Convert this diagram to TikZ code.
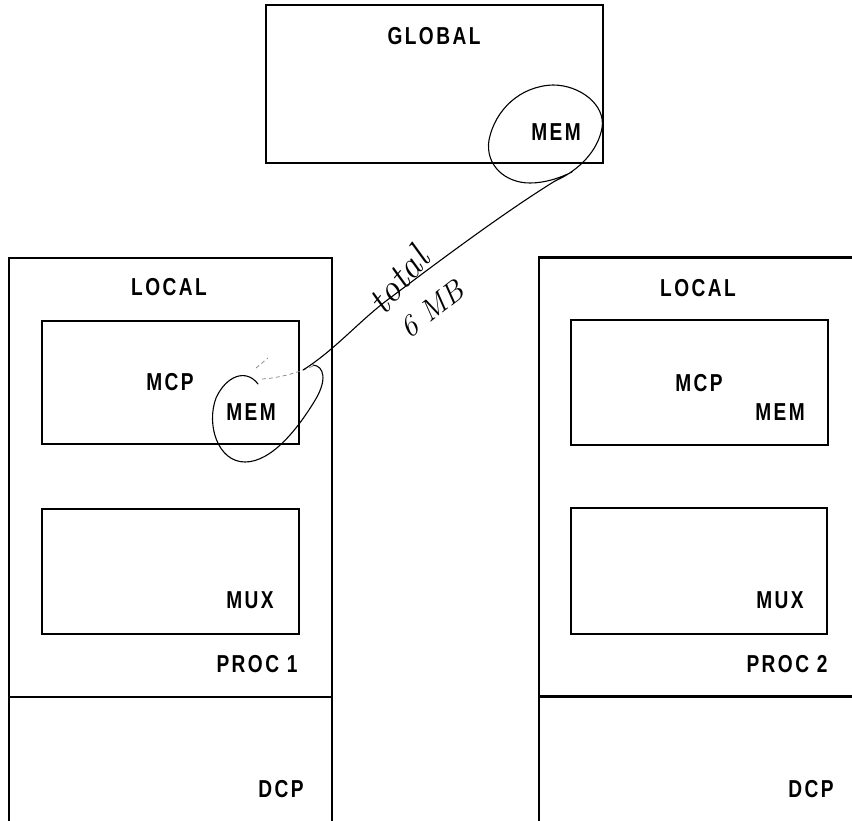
\documentclass[tikz,border=0pt]{standalone}
\usepackage{fontspec}
\newfontfamily\lbl[FakeStretch=0.78,LetterSpace=10]{Liberation Sans Bold}
\begin{document}
\begin{tikzpicture}[x=1pt,y=-1pt,
  box/.style={draw, line width=2.6pt, rectangle, inner sep=0pt, outer sep=0pt},
  lab/.style={font=\lbl\fontsize{24.5}{26}\selectfont, inner sep=0pt, text height=17.5pt, text depth=0pt},
  hand/.style={line width=1.1pt, line cap=round, line join=round},
  faint/.style={line width=0.7pt, gray, dash pattern=on 4pt off 3pt},
  handtxt/.style={font=\itshape\fontsize{38}{38}\selectfont, inner sep=0pt},
  ]
\useasboundingbox (0,0) rectangle (852,820);
\clip (0,0) rectangle (852,820);

% global memory
\node[box, minimum width=337pt, minimum height=158pt] (global) at (434.5,84) {};
\node[lab] (tglobal) at (434,36) {GLOBAL};
\node[lab] (tmemg) at (556,132) {MEM};

% processor 1
\node[box, minimum width=323pt, minimum height=439pt] (proc1) at (170.5,477.5) {};
\node[box, minimum width=323pt, minimum height=143pt] (dcp1) at (170.5,768.5) {};
\node[box, minimum width=257pt, minimum height=123pt] (mcp1) at (170.5,382.5) {};
\node[box, minimum width=257pt, minimum height=125pt] (mux1) at (170.5,571.5) {};
\node[lab] (tlocal1) at (169,287) {LOCAL};
\node[lab] (tmcp1) at (170,382) {MCP};
\node[lab] (tmem1) at (251,412) {MEM};
\node[lab] (tmux1) at (250,600) {MUX};
\node[lab] (tproc1) at (257,664) {PROC 1};
\node[lab] (tdcp1) at (281,789) {DCP};

% processor 2
\node[box, minimum width=323pt, minimum height=439pt] (proc2) at (700.5,477) {};
\node[box, minimum width=323pt, minimum height=143pt] (dcp2) at (700.5,768.5) {};
\node[box, minimum width=257pt, minimum height=125pt] (mcp2) at (699.5,382.5) {};
\node[box, minimum width=256pt, minimum height=126pt] (mux2) at (699,571) {};
\node[lab] (tlocal2) at (698,288) {LOCAL};
\node[lab] (tmcp2) at (699,383) {MCP};
\node[lab] (tmem2) at (780,412) {MEM};
\node[lab] (tmux2) at (780,600) {MUX};
\node[lab] (tproc2) at (787,664) {PROC 2};
\node[lab] (tdcp2) at (811,789) {DCP};

% handwritten annotation
\coordinate (memL) at (303,370);
\coordinate (memG) at (555,181);

% loop around local MEM
\draw[hand] (258,384) .. controls (246,368) and (226,376) .. (216,398)
  .. controls (206,425) and (218,462) .. (245,462)
  .. controls (272,462) and (298,428) .. (314,402)
  .. controls (328,380) and (324,366) .. (313,365);
\draw[faint] (313,366) .. controls (300,372) and (280,378) .. (262,379);
\draw[faint] (256,368) -- (268,358);

% connector between the two loops
\draw[hand] (memL) .. controls (335,350) and (360,320) .. (390,298)
  .. controls (430,268) and (500,215) .. (memG);

% loop around global MEM
\draw[hand] (memG) .. controls (580,170) and (598,150) .. (602,128)
  .. controls (606,105) and (580,85) .. (553,85)
  .. controls (520,86) and (495,110) .. (489,140)
  .. controls (485,165) and (505,183) .. (530,183)
  .. controls (545,183) and (560,178) .. (572,172);

\node[handtxt, rotate=50] (ttotal) at (398,280) {total};
\node[handtxt, font=\itshape\fontsize{30}{30}\selectfont, rotate=38] (t6mb) at (432,309) {6 MB};
\end{tikzpicture}
\end{document}
